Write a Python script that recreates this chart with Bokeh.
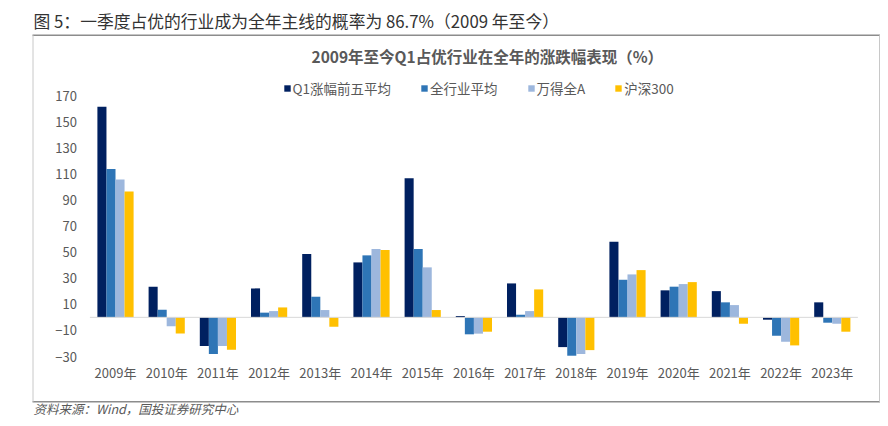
import numpy as np
from bokeh.plotting import figure
from bokeh.models import ColumnDataSource, Range1d, FixedTicker, Label
from bokeh.transform import dodge
from bokeh.embed import file_html
from bokeh.resources import INLINE

# ---------------- data ----------------
years = ["2009年", "2010年", "2011年", "2012年", "2013年", "2014年", "2015年", "2016年",
         "2017年", "2018年", "2019年", "2020年", "2021年", "2022年", "2023年"]
q1_top5 = [161.4, 23.5, -22.0, 22.2, 48.5, 42.1, 106.5, 1.0, 26.0, -22.8, 57.9, 20.7, 20.1, -1.8, 11.5]
industry_avg = [113.6, 5.9, -28.1, 3.6, 15.8, 47.5, 52.3, -13.0, 2.0, -29.4, 28.8, 23.5, 11.5, -14.1, -4.1]
wind_all_a = [105.7, -6.9, -22.0, 4.8, 5.6, 52.3, 38.3, -12.5, 4.8, -28.1, 32.9, 25.5, 9.4, -18.7, -4.9]
csi300 = [96.5, -12.3, -24.8, 7.6, -7.2, 51.6, 5.6, -11.0, 21.4, -25.1, 36.2, 27.0, -4.9, -21.5, -11.0]
series_names = ["Q1涨幅前五平均", "全行业平均", "万得全A", "沪深300"]
y_ticks = [-30, -10, 10, 30, 50, 70, 90, 110, 130, 150, 170]

fig_title = "图 5：一季度占优的行业成为全年主线的概率为 86.7%（2009 年至今）"
chart_title = "2009年至今Q1占优行业在全年的涨跌幅表现（%）"
source_note = "资料来源：Wind，国投证券研究中心"

# ---------------- layout (pixel geometry of the page) ----------------
W, H = 880, 418
FONT = "Noto Sans CJK SC"
colors = ["#002060", "#2E75B6", "#9DB7DD", "#FFC000"]
offsets = [-0.265, -0.0883, 0.0883, 0.265]
bar_w = 0.177
CAT_PX = 51.2          # pixels per category
CAT_X0 = 89.4          # pixel x where the category axis starts
Y_TOP_PX, Y_BOT_PX = 95.0, 356.0   # pixel y of 170 and -30
V_TOP, V_BOT = 170.0, -30.0
PX_PER_V = (Y_BOT_PX - Y_TOP_PX) / (V_TOP - V_BOT)


def dx(X):
    return (X - CAT_X0) / CAT_PX


def dy(Y):
    return V_TOP - (Y - Y_TOP_PX) / PX_PER_V


n = len(years)
centers = np.arange(n) + 0.5
src = ColumnDataSource(dict(c=centers, s0=q1_top5, s1=industry_avg, s2=wind_all_a, s3=csi300))

p = figure(width=W, height=H, x_range=Range1d(dx(0), dx(W)), y_range=Range1d(dy(H), dy(0)),
           output_backend="svg", toolbar_location=None,
           min_border_left=0, min_border_right=0, min_border_top=0, min_border_bottom=0)
p.outline_line_color = None
p.background_fill_color = "white"
p.border_fill_color = "white"
p.xgrid.visible = False
p.ygrid.visible = False

for i, col in enumerate(["s0", "s1", "s2", "s3"]):
    p.vbar(x=dodge("c", offsets[i]), top=col, bottom=0, width=bar_w,
           source=src, fill_color=colors[i], line_color=None, legend_label=series_names[i])

# zero line across the category span
p.segment(x0=[0], y0=[0], x1=[n], y1=[0], line_color="#D9D9D9", line_width=1)

# axes drawn at fixed positions inside the frame
p.xaxis.fixed_location = V_BOT
p.yaxis.fixed_location = 0
for ax in (p.xaxis, p.yaxis):
    ax.axis_line_color = None
    ax.major_tick_line_color = None
    ax.minor_tick_line_color = None
    ax.major_tick_out = 0
    ax.major_tick_in = 0
    ax.major_label_text_font = FONT
    ax.major_label_text_font_size = "13px"
    ax.major_label_text_color = "#595959"
p.xaxis.ticker = FixedTicker(ticks=list(centers))
p.xaxis.major_label_overrides = {float(c): y for c, y in zip(centers, years)}
p.xaxis.major_label_standoff = 6
p.yaxis.ticker = FixedTicker(ticks=y_ticks)
p.yaxis.major_label_standoff = 13

# legend
lg = p.legend[0]
lg.orientation = "horizontal"
lg.location = (282.5, H - 98.0)
lg.padding = 0
lg.margin = 0
lg.spacing = 29
lg.glyph_width = 8
lg.glyph_height = 8
lg.label_standoff = 2
lg.label_height = 20
lg.label_text_font = FONT
lg.label_text_font_size = "13.5px"
lg.label_text_color = "#595959"
lg.border_line_color = None
lg.background_fill_alpha = 0

# titles / notes
p.add_layout(Label(x=dx(33), y=dy(20), text=fig_title, text_font=FONT, text_font_size="16.8px",
                   text_color="#333333", text_align="left", text_baseline="middle"))
p.add_layout(Label(x=dx(311), y=dy(55), text=chart_title, text_font=FONT, text_font_size="15.5px",
                   text_font_style="bold", text_color="#595959", text_align="left",
                   text_baseline="middle"))
p.add_layout(Label(x=dx(33), y=dy(407.5), text=source_note, text_font=FONT, text_font_size="12.5px",
                   text_font_style="italic", text_color="#595959", text_align="left",
                   text_baseline="middle"))

# outer box lines
p.segment(x0=[dx(32), dx(32)], y0=[dy(34.7), dy(401.3)], x1=[dx(879.5), dx(879.5)],
          y1=[dy(34.7), dy(401.3)], line_color="#8C8C8C", line_width=1.6)
p.segment(x0=[dx(32.5), dx(879)], y0=[dy(34.7), dy(34.7)], x1=[dx(32.5), dx(879)],
          y1=[dy(401.3), dy(401.3)], line_color="#C8C8C8", line_width=1)

open("out.html", "w").write(file_html(p, INLINE))
